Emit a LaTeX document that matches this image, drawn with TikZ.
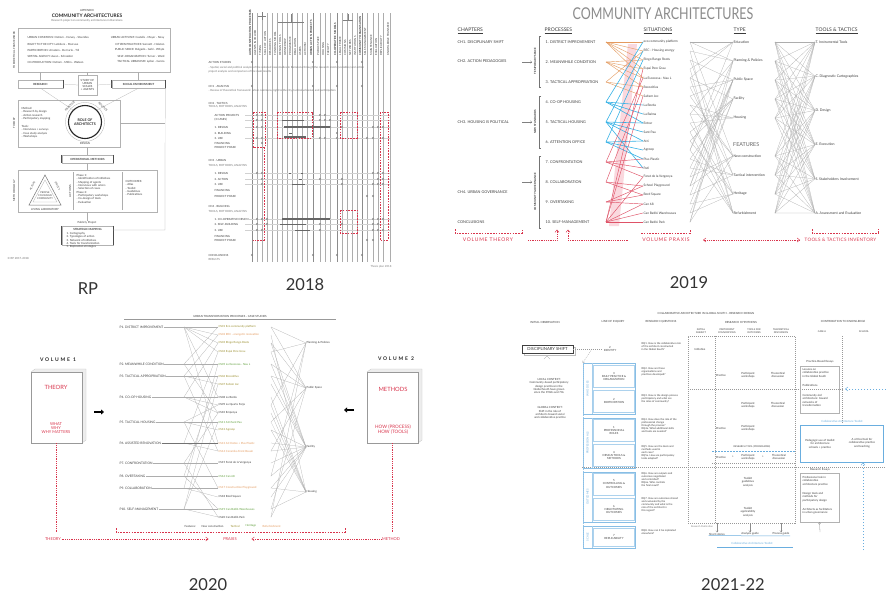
\documentclass[tikz,border=0pt]{standalone}
\usepackage{fontspec}
\setmainfont{Lato}
\usetikzlibrary{arrows.meta,calc}
\definecolor{rd}{HTML}{D9344C}
\definecolor{orng}{HTML}{E49A5E}
\definecolor{blu}{HTML}{35B2E6}
\definecolor{lblu}{HTML}{6AAEDF}
\definecolor{grn}{HTML}{5E9E3A}
\definecolor{olv}{HTML}{9A8E2E}
\definecolor{ink}{HTML}{3C3C3C}
\definecolor{pnk}{HTML}{F4A9B6}
\tikzset{
  t3/.style={font=\fontsize{2.8}{3.3}\selectfont, text=ink, inner sep=0.4pt},
  t31/.style={font=\fontsize{3.2}{3.7}\selectfont, text=ink, inner sep=0.4pt},
  t35/.style={font=\fontsize{3.5}{4}\selectfont, text=ink, inner sep=0.4pt},
  t4/.style={font=\fontsize{3.8}{4.4}\selectfont, text=ink, inner sep=0.5pt},
  hdr/.style={font=\fontsize{5}{5.5}\selectfont, text=ink, inner sep=0.5pt, anchor=west},
  bold3/.style={font=\fontsize{2.8}{3.2}\selectfont\bfseries, text=ink, inner sep=0pt},
  yearlab/.style={font=\fontsize{16.5}{17}\selectfont, text=black!80, inner sep=0pt},
  frame/.style={draw=black!30, line width=0.35pt},
  gline/.style={draw=black!32, line width=0.22pt},
  rdash/.style={draw=rd, line width=0.45pt, dash pattern=on 1.6pt off 1.2pt},
  rdot/.style={draw=rd, line width=0.45pt, dash pattern=on 0.6pt off 1.2pt},
  bdash/.style={draw=lblu, line width=0.45pt, dash pattern=on 1.5pt off 1.5pt},
  gdash/.style={draw=black!40, line width=0.3pt, dash pattern=on 1pt off 1pt},
  oline/.style={draw=orng, line width=0.4pt},
  bline/.style={draw=blu, line width=0.6pt},
  pline/.style={draw=rd!85, line width=0.45pt},
  bbox/.style={draw=lblu!80, line width=0.5pt},
  vtip/.style={-{Straight Barb[length=2.5pt,width=4pt]}},
  redtxt/.style={text=rd, font=\fontsize{5}{5}\selectfont\addfontfeature{LetterSpace=15}, inner sep=0.5pt},
  volt/.style={font=\fontsize{5}{5}\selectfont\bfseries\addfontfeature{LetterSpace=35}, text=black!85, inner sep=0},
  fatarrow/.style={draw=black, line width=1.6pt, -{Triangle[length=3pt,width=5pt]}},
  bar/.style={draw=black!60, line width=0.9pt},
}
\begin{document}
\begin{tikzpicture}[x=1pt,y=-1pt]
\useasboundingbox (0,0) rectangle (886,595);
\fill[white] (0,0) rectangle (886,595);

% ============ YEAR LABELS
\node[yearlab] (yRP) at (88,289) {RP};
\node[yearlab] (y18) at (305,285) {2018};
\node[yearlab] (y19) at (689,283) {2019};
\node[yearlab] (y20) at (208,585) {2020};
\node[yearlab] (y21) at (733,585) {2021-22};

% ============ RP PANEL
\node[t3] (rp0) at (87,10) {APPENDIX};
\node[font=\fontsize{4.8}{5}\selectfont\bfseries, text=black!85, inner sep=0] (rp1) at (87,15.5) {COMMUNITY ARCHITECTURES};
\node[t3, text=black!55] (rp2) at (87,20.5) {Research project on community architectures in Barcelona};
\node[frame, minimum width=152, minimum height=44, inner sep=0] (rptop) at (94,50) {};
\node[t3, rotate=90] (rptopl) at (14,50) {THEORETICAL FRAMEWORK};
\foreach \t [count=\i] in {URBAN COMMONS: Ostrom - Harvey - Stavrides, RIGHT TO THE CITY: Lefebvre - Marcuse, PARTICIPATION: Arnstein - De Carlo - Till, SPATIAL AGENCY: Awan - Schneider, CO-PRODUCTION: Ostrom - Mitlin - Watson}
  \node[t3, anchor=west] (rpl\i) at (27,{32+6*\i}) {\t};
\foreach \t [count=\i] in {URBAN ACTIVISM: Castells - Mayer - Novy, CITIZEN PRACTICES: Sennett - Holston, PUBLIC SPACE: Delgado - Gehl - Whyte, SELF-ORGANIZATION: Turner - Ward, TACTICAL URBANISM: Lydon - Garcia}
  \node[t3, anchor=east] (rpr\i) at (165,{32+6*\i}) {\t};
\node[frame, minimum width=45, minimum height=8, inner sep=0, bold3] (rpres) at (40.5,84) {RESEARCH};
\draw[black!70, line width=0.8pt] (rpres.north east) -- (rpres.south east);
\node[frame, minimum width=19, minimum height=20, inner sep=0, t3, align=center] (rpmid) at (87.5,85) {STUDY OF\\URBAN\\SCALES\\+ AGENTS};
\node[frame, minimum width=53, minimum height=8, inner sep=0, bold3] (rpsoc) at (138.5,84) {SOCIAL ENVIRONMENT};
\draw[black!70, line width=0.8pt] (rpsoc.north west) -- (rpsoc.south west);
\draw[black!70, line width=0.8pt] (rpsoc.north east) -- (rpsoc.south east);
\draw[gline] (rpres.east) -- (rpmid.west);
\draw[gline] (rpmid.east) -- (rpsoc.west);
\draw[gline] (rpres.north) -- (rpres.north |- rptop.south);
\draw[gline] (rpsoc.north) -- (rpsoc.north |- rptop.south);
\draw[gline] (rpmid.north) -- (rpmid.north |- rptop.south);
\node[frame, minimum width=102, minimum height=47, inner sep=0] (rpth) at (69,123.5) {};
\node[t3, rotate=90] (rpthl) at (14,123) {THEORY};
\node[circle, draw=black!85, line width=1.1pt, minimum size=33, inner sep=0, font=\fontsize{3.6}{4}\selectfont\bfseries, align=center, text=black!85] (rprole) at (85,122) {ROLE OF\\ARCHITECTS};
\draw[black!30, line width=0.3pt] (rprole.center) circle[radius=19.5pt];
\draw[gline] (rpres.south) -- (rprole.135);
\draw[gline] (rpsoc.south) -- (rprole.45);
\node[t3, rotate=45] (rparc1) at (70,106) {PRACTICE};
\node[t3, rotate=-45] (rparc2) at (103,107) {POLITICS};
\node[t3, anchor=north west, align=left] (rpmeth) at (21,107) {Method:\\- Research by design\\- Action research\\- Participatory mapping};
\node[t3, anchor=north west, align=left] (rptools) at (21,125) {Tools:\\- Interviews + surveys\\- Case study analysis\\- Workshops};
\node[t3] (rpdes) at (85,143) {DESIGN};
\node[frame, minimum width=51, minimum height=8, inner sep=0, bold3] (rpop) at (87.5,159) {OPERATIONAL METHODS};
\draw[black!70, line width=0.8pt] (rpop.north west) -- (rpop.south west);
\draw[black!70, line width=0.8pt] (rpop.north east) -- (rpop.south east);
\draw[gline] (rpth.south -| rpop.north) -- (rpop.north);
\node[frame, minimum width=139, minimum height=42, inner sep=0] (rpmb) at (87.5,191) {};
\node[t3, rotate=90] (rpmbl) at (14,191) {METHODOLOGY};
\draw[black!55, line width=0.5pt] (45,175) -- (29,205) -- (61,205) -- cycle;
\draw[black!30, line width=0.3pt] (45,180) -- (33,202) -- (57,202) -- cycle;
\node[t3, align=center, font=\fontsize{2.5}{3}\selectfont] (rptri) at (45,195.5) {PEOPLE\\CO-DESIGN\\COMMUNITY};
\node[t3, rotate=62, font=\fontsize{2.4}{3}\selectfont] (rptr1) at (32.5,186) {ACTORS};
\node[t3, rotate=-62, font=\fontsize{2.4}{3}\selectfont] (rptr2) at (57.5,186) {SPACES};
\node[t3] (rplab) at (45,209) {LIVING LABORATORY};
\draw[gline] (73,172) -- (73,210);
\node[t3, rotate=90] (rpact) at (70,191) {ACTIONS};
\node[t3, anchor=north west, align=left] (rpph) at (76,174) {Phase 1:\\- Identification of initiatives\\- Mapping of agents\\- Interviews with actors\\- Selection of cases\\Phase 2:\\- Participatory workshops\\- Co-design of tools\\- Evaluation};
\draw[gline] (122,172) -- (122,210);
\node[t3, anchor=north west, align=left] (rpout) at (125,180) {OUTCOMES:\\- Atlas\\- Toolkit\\- Guidelines\\- Publications};
\draw[gline] (rpop.south) -- (rpop.south |- rpmb.north);
\node[t3] (rppp) at (87,222.5) {Publicly Project};
\node[frame, minimum width=51, minimum height=19, inner sep=0] (rpstr) at (87.5,235.5) {};
\draw[black!70, line width=0.8pt] (rpstr.north west) -- (rpstr.south west);
\draw[black!70, line width=0.8pt] (rpstr.north east) -- (rpstr.south east);
\node[bold3] (rpstrt) at (87.5,229.5) {STRATEGIC MAPPING};
\node[t3, anchor=north west, align=left] (rpstrl) at (66,232) {1. Cartography\\2. Typologies of action\\3. Network of initiatives\\4. Tools for transformation\\5. Replication strategies};
\draw[gline] (rpmb.south -| rppp.north) -- (rppp.north);
\coordinate (rpc1) at (165,230);
\draw[gline] (rpsoc.south east) -- (rpc1) -- (rpc1 -| rpstr.east);
\draw[gline] (rpth.east) -- (rpth.east -| rpsoc.east);
\node[t3, anchor=west, text=black!55] (rpfoot) at (7,258) {© RP 2017-2018};

% ============ 2018 PANEL
\foreach \x in {252,257,262,267,272,277,282,287,292,297,302,307,313,320,325,330,337,342,347,352,357,362,367,373,378,383,390}
  \draw[gline] (\x,13) -- (\x,262);
\foreach \x in {252,313,337,362}
  \draw[black!45, line width=0.35pt] (\x,13) -- (\x,262);
\foreach \x/\t in {257/AGENTS INVOLVED, 262/TIMING, 267/SCALE OF ACTION, 272/RESOURCES, 277/FUNDING MODEL, 282/DESIGN TOOLS, 287/OWNERSHIP, 292/PROGRAMME, 297/REGULATION, 302/USERS, 307/ACTIVISM, 320/PUBLIC SPACE, 325/HOUSING, 330/FACILITY, 342/LEGAL FRAME, 347/COMMONS, 352/NETWORKS, 357/INSTITUTIONS, 367/SELF-MANAGEMENT, 373/MAINTENANCE, 378/EVALUATION, 383/REPLICABILITY, 390/KNOWLEDGE TRANSFER}
  \node[t3, rotate=90, anchor=west, fill=white] (hd\x) at ({\x-1.8},56) {\t};
\foreach \x/\t in {252/AUTOCONSTRUCTION PROCESSES, 313/URBAN ACTION PROJECTS, 337/CO-OPERATIVE MODELS, 362/COMMUNITY ORGANISATION}
  \node[bold3, rotate=90, anchor=west, fill=white] (hb\x) at ({\x-1.8},56) {\t};
\draw[black!50, line width=0.3pt] (258,16) -- (266,16) (262,12) -- (262,20);
\draw[black!50, line width=0.3pt] (278,22) -- (304,22) (291,14) -- (291,22);
\draw[black!50, line width=0.3pt] (343,20) -- (353,20) (348,14) -- (348,20);
\node[t3, anchor=west] (r18a) at (208,62) {ACTION STUDIES};
\node[t3, anchor=west, text=black!55] (r18b) at (208,68) {- Spatial, social and political analysis of the selected case studies in Barcelona through the research matrix (variables) and action};
\node[t3, anchor=west, text=black!55] (r18c) at (208,72) {project analysis and comparison of the main results};
\node[t3, anchor=west] (r18d) at (208,86) {CH1 . ANALYSIS};
\node[t3, anchor=west, text=black!55] (r18e) at (208,90.5) {- Review of theoretical framework: urban commons, right to the city, tactical urbanism and participation};
\node[t3, anchor=west] (r18f) at (208,103) {CH2 . TACTICS};
\node[t3, anchor=west, text=black!55] (r18g) at (208,107) {TOOLS, METHODS, ANALYSIS};
\foreach \y/\t in {115/ACTION PROJECTS, 120/(3 CASES), 127/1. DESIGN, 133/2. BUILDING, 138/3. USE, 143/FINANCING, 147/PROJECT PHASE}
  \node[t3, anchor=west] (s18a\y) at (214,\y) {\t};
\node[t3, anchor=west] (r18h) at (208,160) {CH3 . URBAN};
\node[t3, anchor=west, text=black!55] (r18i) at (208,166) {TOOLS, METHODS, ANALYSIS};
\foreach \y/\t in {173/1. DESIGN, 179/2. ACTION, 184/3. USE, 190/FINANCING, 196/PROJECT PHASE}
  \node[t3, anchor=west] (s18b\y) at (214,\y) {\t};
\node[t3, anchor=west] (r18j) at (208,206) {CH4 . BUILDING};
\node[t3, anchor=west, text=black!55] (r18k) at (208,212) {TOOLS, METHODS, ANALYSIS};
\foreach \y/\t in {219/1. CO-OPERATIVE DESIGN, 224/2. SELF-BUILDING, 230/3. USE, 236/FINANCING, 240/PROJECT PHASE}
  \node[t3, anchor=west] (s18c\y) at (214,\y) {\t};
\node[t3, anchor=west] (r18l) at (208,255) {CONCLUSIONS};
\node[t3, anchor=west, text=black!55] (r18m) at (208,259.5) {RESULTS};
\foreach \y in {115,120,127,138,173,179,184,219,224,230}
  \draw[black!18, line width=0.2pt] (245,\y) -- (390,\y);
\foreach \x/\y in {252/62,313/62,337/62,362/62,252/86,313/86,337/86,362/86,252/255,313/255,337/255,362/255,
  257/115,262/115,320/115,325/115,257/120,262/120,320/120,325/120,330/120,
  257/127,262/127,320/127,325/127,330/127,342/127,373/127,378/127,383/127,
  337/133,257/138,262/138,320/138,325/138,337/138,367/138,373/138,383/138,262/143,
  257/173,262/173,373/173,378/173,383/173,262/179,320/179,342/179,378/179,383/179,
  262/184,342/184,373/184,378/184,383/184,367/196,373/196,
  257/219,262/219,267/219,320/219,325/219,373/219,378/219,383/219,
  257/224,267/224,320/224,342/224,373/224,378/224,257/230,262/230,320/230,373/230,378/230,383/230,367/240,373/240}
  \draw[black!50, line width=0.25pt] (\x,\y) circle[radius=0.9pt];
\draw[bar] (282,120) -- (304,120);
\draw[bar, line width=1.1pt] (284,127) -- (330,127);
\draw[bar] (289,133) -- (292,133);
\draw[bar, line width=1.1pt] (284,137) -- (306,137);
\draw[bar] (289,173) -- (291,173) (301,173) -- (303,173);
\draw[bar] (299,179) -- (302,179);
\draw[bar, line width=0.6pt] (292,184) -- (305,184);
\draw[bar, line width=1.1pt] (282,219) -- (330,219);
\draw[bar, line width=0.6pt] (280,224) -- (306,224);
\draw[bar, line width=0.6pt] (295,230) -- (310,230);
\draw[rdash] (253,112) rectangle (265,147);
\draw[rdash] (264,147) -- (264,240) -- (253,240);
\draw[rdash] (277,112) rectangle (312,138);
\draw[rdash] (340,112) rectangle (357,138);
\draw[rdash] (380,112) rectangle (388,240);
\draw[rdash] (340,210) rectangle (357,233);
\node[t3, anchor=east, text=black!50] (f18) at (392,267) {Thesis plan 2018};

% ============ 2019 PANEL
\node[inner sep=0, text=black!45] (t19) at (663,14) {\scalebox{1}[1.3]{\fontsize{12.5}{13}\selectfont COMMUNITY ARCHITECTURES}};
\node[hdr] (hch) at (457,31) {\underline{CHAPTERS}};
\node[hdr] (hpr) at (544,31) {\underline{PROCESSES}};
\node[hdr] (hsi) at (643,31) {\underline{SITUATIONS}};
\node[hdr] (hty) at (733,31) {\underline{TYPE}};
\node[hdr] (htt) at (815,31) {\underline{TOOLS \& TACTICS}};
\node[t4, anchor=west] (c1) at (457,42) {CH1. DISCIPLINARY SHIFT};
\node[t4, anchor=west] (c2) at (457,61) {CH2. ACTION PEDAGOGIES};
\node[t4, anchor=west] (c3) at (457,122) {CH3. HOUSING IS POLITICAL};
\node[t4, anchor=west] (c4) at (457,192) {CH4. URBAN GOVERNANCE};
\node[t4, anchor=west] (c5) at (457,222) {CONCLUSIONS};
\foreach \t [count=\i] in {1. DISTRICT IMPROVEMENT, 2. MEANWHILE CONDITION, 3. TACTICAL APPROPRIATION, 4. CO-OP HOUSING, 5. TACTICAL HOUSING, 6. ATTENTION OFFICE, 7. CONFRONTATION, 8. COLLABORATION, 9. OVERTAKING, 10. SELF-MANAGEMENT}
{ \node[t4, anchor=west] (p\i) at (545,{22+20*\i}) {\t};
  \coordinate (pe\i) at (606,{22+20*\i}); }
\foreach \c/\p in {c2/p2,c3/p5,c4/p8}
  \draw[black!50, line width=0.3pt, -{Straight Barb[length=1.5pt,width=2.5pt]}] ($(\p.west)+(-23,0)$) -- ($(\p.west)+(-13,0)$);
\draw[black!55, line width=0.4pt] (541,36) -- (539,36) -- (539,87) -- (541,87);
\draw[black!55, line width=0.4pt] (541,96) -- (539,96) -- (539,148) -- (541,148);
\draw[black!55, line width=0.4pt] (541,156) -- (539,156) -- (539,228) -- (541,228);
\node[bold3, rotate=90] (g19a) at (535,61) {TEMPORARY SPACE};
\node[bold3, rotate=90] (g19b) at (535,122) {NEW STANDARDS};
\node[bold3, rotate=90] (g19c) at (535,192) {COMMUNITY GOVERNANCE};
\foreach \t [count=\i] in {eco community platform, REC - Housing energy, Ringo Rango Roots, Espai Pere Grau, La Escocesa - Nau L, Recooltiva, Saltem Joc, La Borda, La Balma, Entrar, Sant Pau, Atri, Agroop, Plus Plastic, Pati, Forat de la Vergonya, School Playground, Bord Square, Can 68, Can Batlló Warehouses, Can Batlló Park}
{ \node[t31, anchor=west] (s\i) at (643,{33+9*\i}) {\t};
  \coordinate (sr\i) at (690,{33+9*\i}); }
\fill[pnk, opacity=0.45] (609,226) -- (619,226) -- (637,44) -- (628,44) -- cycle;
\foreach \a/\b in {1/1,1/2,1/3,1/4,1/5,2/4,2/5,2/6,2/3,3/6,3/7,3/2}
  \draw[oline] (pe\a) -- (s\b.west);
\foreach \a/\b in {4/8,4/9,4/1,4/10,5/10,5/11,5/2,5/12,6/12,6/13,6/14,6/3,5/15}
  \draw[bline] (pe\a) -- (s\b.west);
\foreach \a/\b in {7/16,7/15,7/5,7/14,8/17,8/18,8/6,9/19,9/18,10/20,10/21,10/19,10/4,10/16,10/7,9/17}
  \draw[pline] (pe\a) -- (s\b.west);
\foreach \t [count=\i] in {Education, Planning \& Policies, Public Space, Facility, Housing}
{ \node[t35, anchor=west] (ty\i) at (733,{23+19*\i}) {\t};
  \coordinate (tyr\i) at (775,{23+19*\i}); }
\node[font=\fontsize{5.4}{6}\selectfont, text=black!60, inner sep=0, anchor=west] (feat) at (733,145) {FEATURES};
\foreach \t [count=\j] in {New construction, Tactical intervention, Heritage, Refurbishment}
{ \pgfmathtruncatemacro{\k}{\j+5}
  \node[t35, anchor=west] (ty\k) at (733,{137+19*\j}) {\t};
  \coordinate (tyr\k) at (775,{137+19*\j}); }
\foreach \t [count=\i] in {T. Instrumental Tools, C. Diagnostic Cartographies, D. Design, E. Execution, S. Stakeholders Involvement, A. Assessment and Evaluation}
  \node[t35, anchor=west] (tt\i) at (815,{42+34.2*(\i-1)}) {\t};
\foreach \a/\b in {1/1,1/6,1/2,2/2,2/9,3/3,3/7,4/1,4/9,5/4,5/8,5/1,6/3,6/7,7/3,7/6,8/5,8/6,9/5,9/9,9/2,10/5,10/8,11/4,11/9,12/4,12/8,13/2,13/9,13/1,14/4,14/7,15/3,15/7,16/3,16/6,17/3,17/6,17/2,18/3,18/7,19/4,19/8,20/4,20/8,21/3,21/6,21/2}
  \draw[gline] (sr\a) -- (ty\b.west);
\foreach \a in {1,...,9}
  \foreach \b in {1,...,6}
    \draw[gline] (tyr\a) -- (tt\b.west);
% bottom 2019
\draw[rdash] (455,229) -- (455,233) -- (522,233) -- (522,229);
\node[redtxt] (vth) at (488,240) {VOLUME THEORY};
\coordinate (ch1) at (557,229.5);
\coordinate (ch2) at (568,229.5);
\coordinate (dl1) at (528,240);
\coordinate (dl2) at (628,240);
\draw[rdot, vtip] (dl1) -| (ch1);
\draw[rdot, vtip] (dl2) -| (ch2);
\draw[rdash] (641,233) -- (690,233) -- (690,229);
\node[redtxt] (vpr) at (666,240) {VOLUME PRAXIS};
\coordinate (dl3) at (703,240);
\coordinate (dl4) at (800,240);
\draw[rdot, {Straight Barb[length=2.5pt,width=4pt]}-{Straight Barb[length=2.5pt,width=4pt]}] (dl3) -- (dl4);
\node[text=rd, font=\fontsize{4.6}{5}\selectfont\addfontfeature{LetterSpace=6}, inner sep=0.5pt, anchor=west] (vtt) at (804,240) {TOOLS \& TACTICS INVENTORY};
\draw[rdash] (812,229) -- (812,233) -- (878,233) -- (878,229);

% ============ 2020 PANEL
\node[t3] (h20) at (230,316) {URBAN TRANSFORMATION PROCESSES - CASE STUDIES};
\draw[black!40, line width=0.6pt] (124,319.5) -- (336,319.5);
\foreach \t/\y [count=\i] in {P1. DISTRICT IMPROVEMENT/327, P2. MEANWHILE CONDITION/364, P3. TACTICAL APPROPRIATION/376, P4. CO-OP HOUSING/397, P5. TACTICAL HOUSING/422, P6. ASSISTED RENOVATION/443, P7. CONFRONTATION/463, P8. OVERTAKING/476, P9. COLLABORATION/488, P10. SELF-MANAGEMENT/509}
{ \node[t31, anchor=west] (q\i) at (119,\y) {\t};
  \coordinate (qc\i) at (184,\y); }
\foreach \t/\y/\c [count=\i] in {CS01 Eco community platform/327/olv, CS02 REC - energetic renovation/335/orng, CS03 Ringo Rango Roots/343/olv, CS04 Espai Pere Grau/352/olv, CS05 La Escocesa - Nau L/364/grn, CS06 Recooltiva/376/olv, CS07 Saltem Joc/384/olv, CS08 La Borda/397/ink, CS09 La Quarta Forja/405/ink, CS10 Empenya/413/ink, CS11 Atri Sant Pau/422/grn, CS12 Agroop/430/olv, CS13 AC Dotze + Plus Plastic/443/orng, CS14 Ceramika Front Bassin/451/orng, CS15 Forat de la Vergonya/463/ink, CS16 Can 68/476/grn, CS17 Construction Playground/488/orng, CS18 Bord Square/497/ink, CS19 Can Batlló Warehouses/509/grn, CS20 Can Batlló Park/517/ink}
{ \node[t3, anchor=west, text=\c] (cs\i) at (218,\y) {\t};
  \coordinate (csr\i) at (271,\y); }
\foreach \t/\y [count=\i] in {Planning \& Policies/343, Public Space/388, Facility/447, Housing/492}
  \node[t3, anchor=west] (u\i) at (306,\y) {\t};
\foreach \a/\b in {1/1,1/2,1/3,1/4,1/13,1/8,2/5,2/1,2/10,3/6,3/7,3/2,3/14,4/8,4/9,4/10,4/3,5/11,5/12,5/9,5/17,6/14,6/4,7/15,7/10,7/20,8/16,8/19,8/6,9/17,9/18,9/5,10/19,10/20,10/11,10/7}
  \draw[gline] (qc\a) -- (cs\b.west);
\foreach \a in {1,...,10}
  \draw[gline] (q\a.east) -- (qc\a);
\draw[black!55, line width=0.6pt] (q6.east) -- (cs13.west);
\foreach \a/\b in {1/1,1/2,2/4,3/2,3/3,4/3,4/1,5/3,5/2,6/2,6/3,7/3,8/4,9/4,9/1,10/4,11/4,11/2,12/3,12/4,13/3,14/3,14/2,15/3,16/3,16/1,17/3,17/4,18/3,19/2,19/4,20/3,20/1}
  \draw[gline] (csr\a) -- (u\b.west);
\node[t3, anchor=west] (fe0) at (184,526) {Features:};
\node[t3, anchor=west] (fe1) at (201,526) {New construction};
\node[t3, anchor=west, text=olv] (fe2) at (230,526) {Tactical};
\node[t3, anchor=west, text=grn] (fe3) at (245,526) {Heritage};
\node[t3, anchor=west, text=orng] (fe4) at (262,526) {Refurbishment};
% volume 1
\node[volt] (v1t) at (58,360) {VOLUME 1};
\fill[black!7] (31,372) -- (35,369) -- (86,369) -- (86,440) -- (82,443) -- (82,372) -- cycle;
\draw[black!22, line width=0.3pt] (31,372) -- (35,369) -- (86,369) -- (86,440) -- (82,443);
\node[draw=black!40, fill=white, line width=0.5pt, minimum width=51, minimum height=71, inner sep=0] (vol1) at (56.5,407.5) {};
\node[text=rd, font=\fontsize{5.8}{6}\selectfont, inner sep=0] (v1a) at (56,387) {THEORY};
\node[text=rd, font=\fontsize{4}{4.3}\selectfont, align=center, inner sep=0] (v1b) at (56,428) {WHAT\\WHY\\WHY MATTERS};
\coordinate (ar1a) at (94,412);
\coordinate (ar1b) at (104,412);
\draw[fatarrow] (ar1a) -- (ar1b);
% volume 2
\node[volt] (v2t) at (396,359) {VOLUME 2};
\fill[black!7] (367,372) -- (371,369) -- (422,369) -- (422,440) -- (418,443) -- (418,372) -- cycle;
\draw[black!22, line width=0.3pt] (367,372) -- (371,369) -- (422,369) -- (422,440) -- (418,443);
\node[draw=black!40, fill=white, line width=0.5pt, minimum width=51, minimum height=71, inner sep=0] (vol2) at (392.5,407.5) {};
\node[text=rd, font=\fontsize{5.8}{6}\selectfont, inner sep=0] (v2a) at (393,389) {METHODS};
\node[text=rd, font=\fontsize{4.6}{5}\selectfont, align=center, inner sep=0] (v2b) at (393,430) {HOW (PROCESS)\\HOW (TOOLS)};
\coordinate (ar2a) at (354,410);
\coordinate (ar2b) at (344,410);
\draw[fatarrow] (ar2a) -- (ar2b);
% bottom 2020
\coordinate (vb1) at (56.5,532);
\coordinate (vb2) at (392.5,532);
\draw[rdot] (vol1.south) -- (vb1);
\draw[rdot] (vol2.south) -- (vb2);
\draw[rdash] (116,528) -- (116,532) -- (345,532) -- (345,528);
\node[text=rd, font=\fontsize{4}{4}\selectfont, inner sep=0.5pt] (th20) at (53,539) {THEORY};
\node[text=rd, font=\fontsize{4}{4}\selectfont, inner sep=0.5pt] (px20) at (230,539) {PRAXIS};
\node[text=rd, font=\fontsize{4}{4}\selectfont, inner sep=0.5pt] (me20) at (391,539) {METHOD};
\draw[rdot, vtip] (th20.east) -- ($(px20.west)+(-14,0)$);
\draw[rdot, vtip] (me20.west) -- ($(px20.east)+(14,0)$);

% ============ 2021-22 PANEL
\node[t3] (cat) at (706,313) {COLLABORATIVE ARCHITECTURE IN GLOBAL SOUTH - RESEARCH DESIGN};
\node[t3] (hi1) at (545,322) {INITIAL OBSERVATION};
\node[t3] (hi2) at (613,322) {LINE OF INQUIRY};
\node[t3] (hi3) at (661,322) {RESEARCH QUESTIONS};
\node[t3] (hi4) at (741,322) {RESEARCH HYPOTHESIS};
\node[t3] (hi5) at (843,321) {CONTRIBUTION TO KNOWLEDGE};
\node[t3, align=center, font=\fontsize{2.4}{2.8}\selectfont] (sh1) at (701,331) {INITIAL\\SUBJECT};
\node[t3, align=center, font=\fontsize{2.4}{2.8}\selectfont] (sh2) at (727,331) {PARTICIPANT\\FOUNDATIONS};
\node[t3, align=center, font=\fontsize{2.4}{2.8}\selectfont] (sh3) at (754,331) {TOOLS FOR\\OUTCOMES};
\node[t3, align=center, font=\fontsize{2.4}{2.8}\selectfont] (sh4) at (781,331) {THEORETICAL\\DISCUSSION};
\node[t3, font=\fontsize{2.4}{2.8}\selectfont] (sh5) at (822,332) {CASE A};
\node[t3, font=\fontsize{2.4}{2.8}\selectfont] (sh6) at (864,332) {SCHOOL};
\node[draw=black!40, line width=0.3pt, dash pattern=on 1pt off 1pt, minimum width=107, minimum height=187, inner sep=0] (hyp) at (741.5,429.5) {};
\draw[gdash] ($(hyp.north west)+(27,0)$) -- ($(hyp.south west)+(27,0)$);
\draw[gdash] (hyp.west |- 0,389) -- (842,389);
\coordinate (ba1) at (886,389);
\coordinate (ba2) at (845,389);
\draw[bdash, vtip] (ba1) -- (ba2);
\draw[gdash] (842,336) -- (842,424);
\draw[gdash] (582,467) -- (886,467);
\draw[bdash] (712,451) -- (795,451);
\draw[gdash] (712,463) -- (795,463);
\node[t3, font=\fontsize{2.4}{2.8}\selectfont] (rtool) at (752,447) {RESEARCH TOOL (PROGRAMME)};
\node[t3] (hy1) at (700,349) {Initiative};
\node[t3] (hy2) at (721,375) {Practice};
\node[t3, align=center] (hy3) at (748,375) {Participant\\workshops};
\node[t3, align=center] (hy4) at (778,375) {Theoretical\\discussion};
\node[t3, align=center] (hy5) at (748,405) {Participant\\workshops};
\node[t3, align=center] (hy6) at (778,405) {Theoretical\\discussion};
\node[t3] (hy7) at (721,428) {Practice};
\node[t3, align=center] (hy8) at (748,428) {Participant\\workshops};
\node[t3] (hy9) at (721,457) {Practice};
\node[t3] (hy10) at (733,457) {+};
\node[t3, align=center] (hy11) at (748,457) {Participant\\workshops};
\node[t3] (hy12) at (763,457) {+};
\node[t3, align=center] (hy13) at (779,457) {Theoretical\\discussion};
\node[t3, align=center] (hy14) at (748,482) {Toolkit\\guidelines\\analysis};
\node[t3, align=center] (hy15) at (748,512) {Toolkit\\applicability\\analysis};
\node[t3, text=black!50, font=\fontsize{2.4}{2.8}\selectfont] (rpub) at (702,527) {Research Publication};
\node[t3] (ob1) at (717,534) {Short stories};
\node[t3] (ob2) at (750,534) {Analysis guide};
\node[t3] (ob3) at (781,534) {Process guide};
\foreach \n in {ob1,ob2,ob3}
  \draw[black!45, line width=0.3pt, -{Straight Barb[length=1.5pt,width=2.5pt]}] (\n.north |- hyp.south) -- (\n.north);
\draw[lblu, line width=0.5pt] (ob1.south west) -- (ob3.south east);
\node[t3, text=lblu] (ctk) at (752,543) {Collaborative Architecture Toolkit};
\draw[lblu, line width=0.6pt] (717,547) -- (793,547);
% contribution
\node[t3] (pbt) at (820,362) {Practice-Based Essays};
\node[frame, minimum width=39, minimum height=47, inner sep=0] (pbb) at (819.5,389.5) {};
\node[t3, anchor=north west, align=left] (pb1) at (802,368) {Lessons on\\collaborative practice\\in the Global South};
\node[t3, anchor=north west, align=left] (pb2) at (802,384) {Publications};
\node[t3, anchor=north west, align=left] (pb3) at (802,394) {Community-led\\architecture: toward\\networks of\\transformation};
\node[t3, text=lblu] (cbt) at (842,421) {Collaborative Architecture Toolkit};
\node[draw=lblu, line width=0.7pt, minimum width=83, minimum height=37, inner sep=0] (cbb) at (841.5,443.5) {};
\node[t3, align=center] (cb1) at (820,444) {Pedagogic use of toolkit\\for architecture\\schools + practice};
\node[t3, align=center] (cb2) at (862,443) {A critical tool for\\collaborative practice\\and teaching};
\node[t3] (ret) at (820,470) {Research Essays};
\node[frame, minimum width=39, minimum height=49, inner sep=0] (reb) at (819.5,497.5) {};
\node[t3, anchor=north west, align=left] (re1) at (802,476) {Professional role in\\collaborative\\architecture practice};
\node[t3, anchor=north west, align=left] (re2) at (802,492) {Design tools and\\methods for\\participatory design};
\node[t3, anchor=north west, align=left] (re3) at (802,508) {Architects as facilitators\\in urban governance};
\coordinate (rea) at (820,532);
\draw[black!45, line width=0.3pt, -{Straight Barb[length=1.5pt,width=2.5pt]}] (rea) -- (reb.south);
\coordinate (bva) at (863,550);
\draw[bdash, vtip] (bva) -- (cbb.south -| bva);
% initial observation
\draw[black!25, line width=0.6pt] (524,347) rectangle (575,355);
\node[draw=black!75, fill=white, line width=0.4pt, minimum width=51, minimum height=8, inner sep=0, font=\fontsize{4.2}{4.5}\selectfont, text=ink] (dshift) at (547.5,349) {DISCIPLINARY SHIFT};
\draw[black!40, line width=0.3pt] (544,359) -- (547,356) -- (550,359);
\node[t3, align=center] (io1) at (549,386) {LOCAL CONTEXT:\\Community-based participatory\\design practices in the\\Global South have grown\\since the 1960s and 70s};
\node[t3, align=center] (io2) at (550,413) {GLOBAL CONTEXT:\\Shift in the role of\\architects toward social\\and collaborative practice};
% line of inquiry
\node[t3, align=center] (li2) at (610,349) {2\\IDENTITY};
\node[bbox, minimum width=52, minimum height=51, inner sep=0] (g1) at (609,388.5) {};
\node[bbox, minimum width=52, minimum height=50, inner sep=0] (g2) at (609,443) {};
\node[bbox, minimum width=52, minimum height=50, inner sep=0] (g3) at (609,497) {};
\node[bbox, minimum width=52, minimum height=22, inner sep=0] (g4) at (609,537) {};
\foreach \g in {g1,g2,g3,g4}
  \draw[lblu!60, line width=0.3pt] ($(\g.north west)+(9,0)$) -- ($(\g.south west)+(9,0)$);
\node[t3, rotate=90, text=lblu] (gl1) at (587.5,388.5) {WHO DOES};
\node[t3, rotate=90, text=lblu] (gl2) at (587.5,443) {PROFESSIONALS};
\node[t3, rotate=90, text=lblu] (gl3) at (587.5,497) {OUTCOMES};
\node[t3, rotate=90, text=lblu] (gl4) at (587.5,537) {SCALE};
\tikzset{libox/.style={draw=lblu!55, line width=0.35pt, minimum width=41, inner sep=0, t3, align=center}}
\node[libox, minimum height=22] (li3) at (614,376.5) {3\\DAILY PRACTICE \&\\ORGANIZATION};
\node[libox, minimum height=22] (li1) at (614,401) {2\\PARTICIPATION};
\node[libox, minimum height=22] (li4) at (614,430.5) {1\\PROFESSIONAL\\ROLES};
\node[libox, minimum height=22] (li5) at (614,455.5) {4\\DESIGN TOOLS \&\\METHODS};
\node[libox, minimum height=22] (li6) at (614,484) {5\\CONTROLLING \&\\OUTCOMES};
\node[libox, minimum height=22] (li7) at (614,509.5) {6\\NEGOTIATING\\OUTCOMES};
\node[libox, minimum height=18] (li8) at (614,537) {7\\REPLICABILITY};
\coordinate (dsturn) at (592,349);
\draw[gdash] (dshift.east) -- (li2.west);
\draw[gdash, -{Straight Barb[length=1.5pt,width=2.5pt]}] (dsturn) -- (g1.north west);
\draw[lblu!70, line width=0.4pt, dash pattern=on 1pt off 1pt] (g1.north west) -- (g4.south west);
% research questions
\tikzset{rq/.style={t3, anchor=north west, align=left, font=\fontsize{2.6}{3.1}\selectfont}}
\node[rq] (rq1) at (641,342) {RQ1. How is the collaborative role\\of the architect constructed\\in the Global South?};
\node[rq] (rq2) at (641,367) {RQ2. How are these\\organisations and\\practices developed?};
\node[rq] (rq3) at (641,394) {RQ3. How is the design process\\participatory and what are\\the roles of community?};
\node[rq] (rq4) at (641,418) {RQ4. How does the role of the\\professional change\\through the process?\\RQ4a. What additional skills\\and tools are needed?};
\node[rq] (rq5) at (641,445) {RQ5. How are the tools and\\methods used in\\each case?\\RQ5a. How are participatory\\tools adapted?};
\node[rq] (rq6) at (641,472) {RQ6. How are outputs and\\outcomes negotiated\\and controlled?\\RQ6a. Who controls\\the final result?};
\node[rq] (rq7) at (641,497) {RQ7. How are outcomes shared\\and evaluated by the\\community and what is the\\role of the architect in\\this regard?};
\node[rq] (rq8) at (641,529) {RQ8. How can it be replicated\\elsewhere?};
\end{tikzpicture}
\end{document}
